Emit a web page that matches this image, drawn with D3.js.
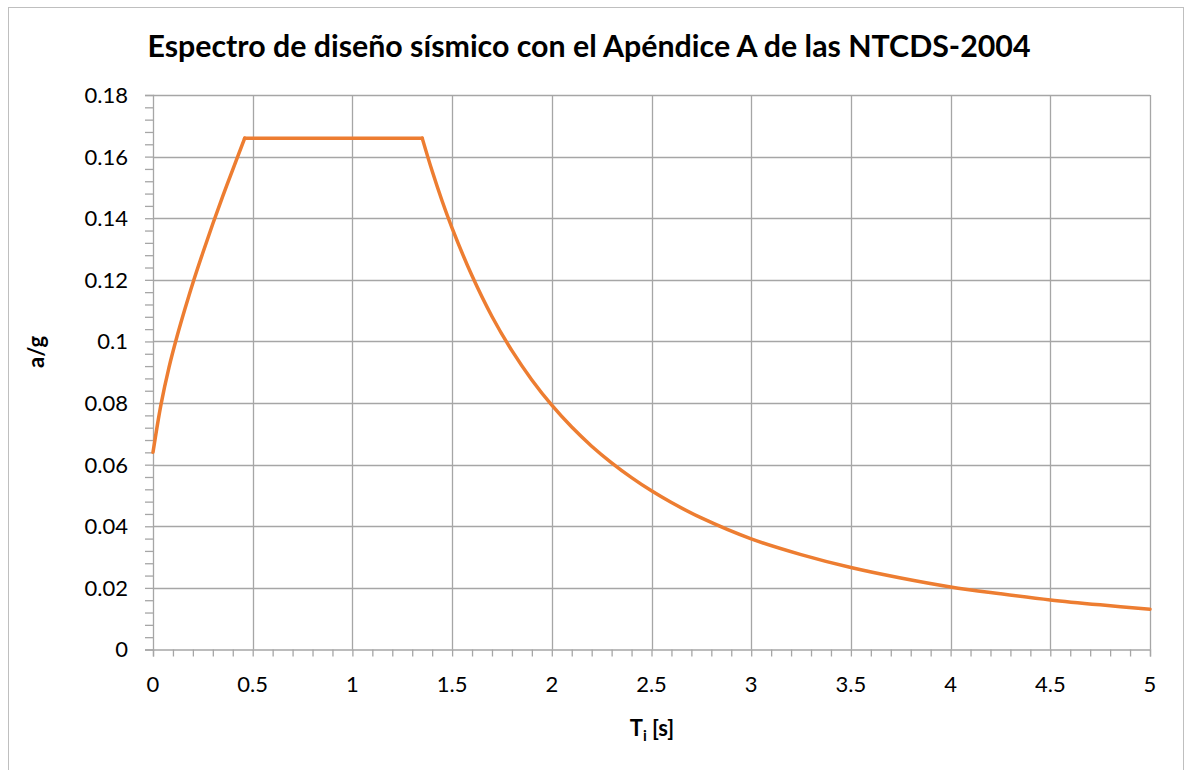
<!DOCTYPE html>
<html><head><meta charset="utf-8">
<script src="https://cdn.jsdelivr.net/npm/d3@7"></script>
<style>
html,body{margin:0;padding:0;background:#fff;}
svg{display:block;}
text{font-family:Lato,"Open Sans",sans-serif;fill:#000;}
</style></head>
<body>
<svg id="chart" width="1187" height="770"></svg>
<script>
const titleText = "Espectro de diseño sísmico con el Apéndice A de las NTCDS-2004";
const yLabel = "a/g";
const xLabelMain = "T";
const xLabelSub = "i";
const xLabelUnit = " [s]";
const xTicks = [0, 0.5, 1, 1.5, 2, 2.5, 3, 3.5, 4, 4.5, 5];
const yTicks = [0, 0.02, 0.04, 0.06, 0.08, 0.1, 0.12, 0.14, 0.16, 0.18];
// rising branch
const riseT = [0, 0.04, 0.08, 0.12, 0.16, 0.20, 0.25, 0.30, 0.35, 0.40, 0.46];
const riseA = [0.064, 0.0795, 0.0915, 0.1015, 0.1105, 0.119, 0.1288, 0.1382, 0.1472, 0.1558, 0.166];
// plateau
const plateauT = [0.46, 1.35];
const plateauA = [0.166, 0.166];
// descending branch
const fallT = [1.35, 1.40, 1.45, 1.50, 1.60, 1.70, 1.80, 1.90, 2.00, 2.10, 2.20, 2.30, 2.40, 2.50, 2.60, 2.75,
  3.00, 3.25, 3.50, 3.75, 4.00, 4.25, 4.50, 4.75, 5.00];
const fallA = [0.166, 0.1553, 0.1456, 0.1368, 0.1213, 0.1081, 0.0970, 0.0875, 0.0793, 0.0722, 0.0660, 0.0606, 0.0558, 0.0515, 0.0477, 0.0427,
  0.0359, 0.0308, 0.0266, 0.0232, 0.0203, 0.0181, 0.0161, 0.0145, 0.0131];

const svg = d3.select("#chart");
const x = d3.scaleLinear().domain([0, 5]).range([153, 1150]);
const y = d3.scaleLinear().domain([0, 0.18]).range([649.5, 95]);
const gridColor = "#a6a6a6";

svg.append("rect").attr("x", 8.5).attr("y", 7.5).attr("width", 1175).attr("height", 800)
  .attr("fill", "#fff").attr("stroke", "#bfbfbf").attr("stroke-width", 1);

svg.append("g").selectAll("line").data(yTicks.filter(d => d > 0)).join("line")
  .attr("x1", x(0)).attr("x2", x(5)).attr("y1", d => Math.round(y(d)) + 0.5).attr("y2", d => Math.round(y(d)) + 0.5)
  .attr("stroke", gridColor).attr("stroke-width", 1.3);
svg.append("g").selectAll("line").data(xTicks.filter(d => d > 0)).join("line")
  .attr("y1", y(0)).attr("y2", y(0.18)).attr("x1", d => Math.round(x(d)) + 0.5).attr("x2", d => Math.round(x(d)) + 0.5)
  .attr("stroke", gridColor).attr("stroke-width", 1.3);

const yAxis = d3.axisLeft(y).tickValues(d3.range(0, 0.1801, 0.004)).tickSize(8).tickFormat("");
const gy = svg.append("g").attr("transform", `translate(${x(0)},0)`).call(yAxis);
gy.select(".domain").attr("stroke", gridColor).attr("stroke-width", 1.3);
gy.selectAll(".tick line").attr("stroke", gridColor).attr("stroke-width", 1.3);
svg.append("g").selectAll("text").data(yTicks).join("text")
  .attr("x", 128).attr("y", d => y(d)).attr("dy", "0.36em").attr("text-anchor", "end")
  .style("font-size", "22px").text(d => String(+d.toFixed(2)));

const xAxis = d3.axisBottom(x).tickValues(d3.range(0, 5.001, 0.1)).tickSize(7).tickFormat("");
const gx = svg.append("g").attr("transform", `translate(0,${y(0)})`).call(xAxis);
gx.select(".domain").attr("stroke", gridColor).attr("stroke-width", 1.3);
gx.selectAll(".tick line").attr("stroke", gridColor).attr("stroke-width", 1.3);
svg.append("g").selectAll("text").data(xTicks).join("text")
  .attr("x", d => x(d)).attr("y", 692).attr("text-anchor", "middle")
  .style("font-size", "22px").text(d => String(d));

const line = d3.line().x(d => x(d[0])).y(d => y(d[1])).curve(d3.curveCatmullRom.alpha(0.5));
const segs = [[riseT, riseA], [plateauT, plateauA], [fallT, fallA]];
const g = svg.append("g");
segs.forEach(([ts, as]) => {
  g.append("path").datum(ts.map((t, i) => [t, as[i]])).attr("d", line).attr("fill", "none")
    .attr("stroke", "#ed7d31").attr("stroke-width", 3.5).attr("stroke-linejoin", "round").attr("stroke-linecap", "round");
});

const title = svg.append("text").attr("x", 589).attr("y", 57).attr("text-anchor", "middle")
  .style("font-size", "24px").style("font-weight", "bold").text(titleText);
const tw = title.node().getComputedTextLength();
title.style("font-size", (24 * 883 / tw).toFixed(2) + "px");

svg.append("text").attr("transform", "translate(44,352) rotate(-90)").attr("text-anchor", "middle")
  .style("font-size", "22px").style("font-weight", "bold").text(yLabel);
const xl = svg.append("text").attr("x", 652).attr("y", 736).attr("text-anchor", "middle")
  .style("font-size", "22px").style("font-weight", "bold");
xl.append("tspan").text(xLabelMain);
xl.append("tspan").attr("dy", 5).style("font-size", "15px").text(xLabelSub);
xl.append("tspan").attr("dy", -5).text(xLabelUnit);
</script>
</body></html>
